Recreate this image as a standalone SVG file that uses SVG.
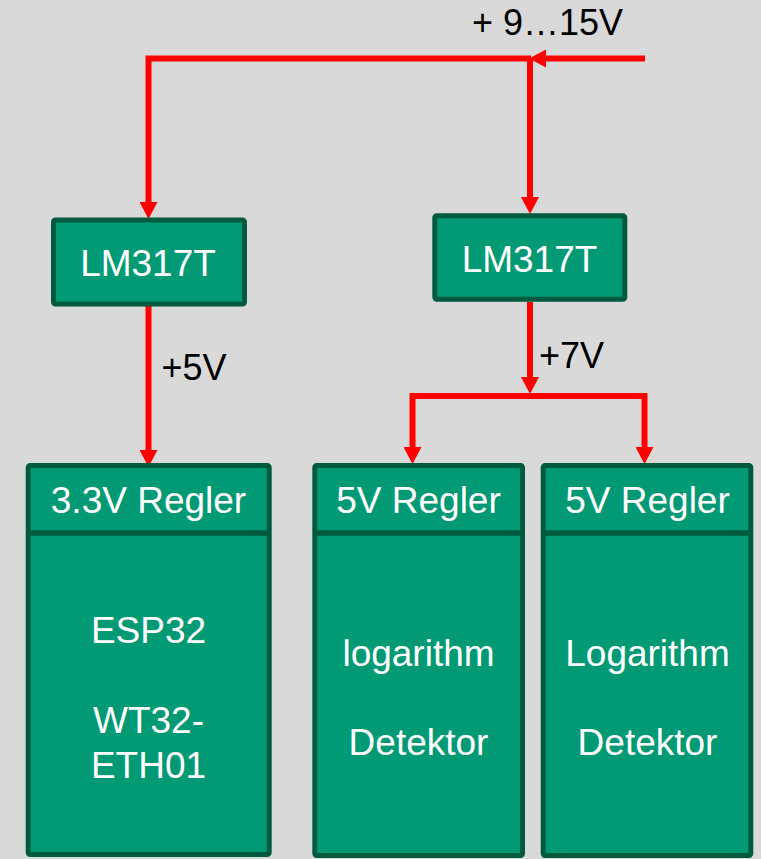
<svg xmlns="http://www.w3.org/2000/svg" width="761" height="859" viewBox="0 0 761 859">
<style>
.box{fill:#029a74;stroke:#005a3e;stroke-width:5}
.div{stroke:#005a3e;stroke-width:5.5}
.t{font-family:"Liberation Sans",Arial,sans-serif;font-size:37px;fill:#ffffff;text-anchor:middle}
.lbl{font-family:"Liberation Sans",Arial,sans-serif;font-size:36px;fill:#000000}
.wire{fill:none;stroke:#ff0000;stroke-width:6;stroke-linejoin:miter}
</style>
<defs>
<marker id="arr" markerUnits="userSpaceOnUse" markerWidth="17" markerHeight="18" refX="0" refY="9" orient="auto-start-reverse" viewBox="0 0 17 18">
<path d="M0,0 L17,9 L0,18 z" fill="#ff0000"/>
</marker>
</defs>
<rect x="0" y="0" width="761" height="859" fill="#d9d9d9"/>

<g id="connectors">
<path class="wire" d="M645,58.5 H546" marker-end="url(#arr)"/>
<path class="wire" d="M531,58.5 H148.5 V202" marker-end="url(#arr)"/>
<path class="wire" d="M530,58.5 V197" marker-end="url(#arr)"/>
<path class="wire" d="M148.5,306 V450" marker-end="url(#arr)"/>
<path class="wire" d="M530,302 V377" marker-end="url(#arr)"/>
<path class="wire" d="M412.5,447 V396 H644.5 V447" marker-start="url(#arr)" marker-end="url(#arr)"/>
<text class="lbl" x="472" y="35">+ 9…15V</text>
<text class="lbl" x="161.5" y="380">+5V</text>
<text class="lbl" x="539" y="368">+7V</text>
</g>

<g id="lm317t-left">
<rect class="box" x="53.5" y="220" width="191" height="84" rx="2"/>
<text class="t" x="148" y="276">LM317T</text>
</g>

<g id="lm317t-right">
<rect class="box" x="434.8" y="215.8" width="190" height="83.5" rx="2"/>
<text class="t" x="529.5" y="272">LM317T</text>
</g>

<g id="esp32">
<rect class="box" x="28.2" y="465.5" width="241" height="389" rx="2"/>
<line class="div" x1="28.2" y1="533" x2="269.2" y2="533"/>
<text class="t" x="148.5" y="513">3.3V Regler</text>
<text class="t" x="148.5" y="643">ESP32</text>
<text class="t" x="148.5" y="733">WT32-</text>
<text class="t" x="148.5" y="778">ETH01</text>
</g>

<g id="detektor-1">
<rect class="box" x="314.8" y="465.5" width="207.7" height="390" rx="2"/>
<line class="div" x1="314.8" y1="533" x2="522.5" y2="533"/>
<text class="t" x="418.5" y="513">5V Regler</text>
<text class="t" x="418.5" y="666">logarithm</text>
<text class="t" x="418.5" y="755">Detektor</text>
</g>

<g id="detektor-2">
<rect class="box" x="543.2" y="465.5" width="207.6" height="390" rx="2"/>
<line class="div" x1="543.2" y1="533" x2="750.8" y2="533"/>
<text class="t" x="647.5" y="513">5V Regler</text>
<text class="t" x="647.5" y="666">Logarithm</text>
<text class="t" x="647.5" y="755">Detektor</text>
</g>
</svg>
